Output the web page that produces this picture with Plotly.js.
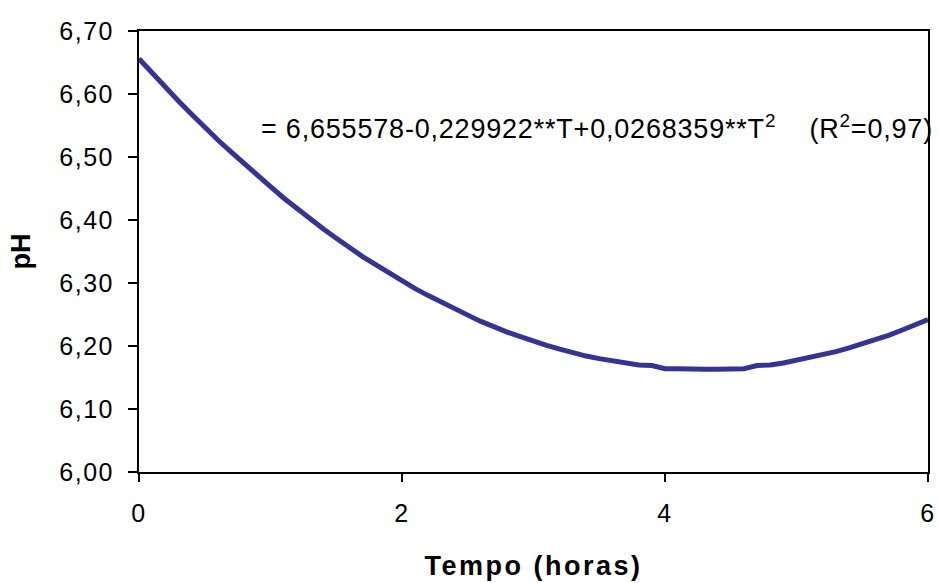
<!DOCTYPE html>
<html>
<head>
<meta charset="utf-8">
<script src="https://cdn.plot.ly/plotly-3.0.1.min.js"></script>
<style>
html,body{margin:0;padding:0;background:#fff;}
#chart{width:938px;height:583px;}
#chart .xtick text, #chart .ytick text{letter-spacing:1.5px;}
#chart .annotation-text{letter-spacing:0.8px;}
#chart .xtitle{letter-spacing:2.5px;}
</style>
</head>
<body>
<div id="chart"></div>
<script>
// Time (hours)
const tempo = [0.0,0.1,0.2,0.3,0.4,0.5,0.6,0.7,0.8,0.9,
               1.0,1.1,1.2,1.3,1.4,1.5,1.6,1.7,1.8,1.9,
               2.0,2.1,2.2,2.3,2.4,2.5,2.6,2.7,2.8,2.9,
               3.0,3.1,3.2,3.3,3.4,3.5,3.6,3.7,3.8,3.9,
               4.0,4.1,4.2,4.3,4.4,4.5,4.6,4.7,4.8,4.9,
               5.0,5.1,5.2,5.3,5.4,5.5,5.6,5.7,5.8,5.9,6.0];
// pH
const ph = [6.656,6.633,6.611,6.589,6.568,6.547,6.527,6.508,6.489,6.470,
            6.453,6.435,6.418,6.402,6.386,6.371,6.356,6.342,6.329,6.316,
            6.303,6.291,6.280,6.269,6.258,6.249,6.239,6.230,6.222,6.215,
            6.207,6.201,6.195,6.189,6.184,6.180,6.176,6.172,6.170,6.169,
            6.164,6.164,6.163,6.163,6.163,6.164,6.164,6.169,6.170,6.173,
            6.177,6.181,6.186,6.191,6.197,6.203,6.210,6.217,6.225,6.233,6.242];
const yTicks = [6.0,6.1,6.2,6.3,6.4,6.5,6.6,6.7];
const yTickText = ["6,00","6,10","6,20","6,30","6,40","6,50","6,60","6,70"];
const xTicks = [0,2,4,6];
const equationText = "= 6,655578-0,229922**T+0,0268359**T<sup>2</sup>    (R<sup>2</sup>=0,97)";

const font = "Liberation Sans, Arial, sans-serif";

const trace = {
  x: tempo, y: ph, type: "scatter", mode: "lines",
  line: {color: "#333399", width: 5},
  hoverinfo: "skip"
};

const layout = {
  width: 938, height: 583,
  margin: {l: 139, r: 10, t: 31, b: 111},
  paper_bgcolor: "#ffffff", plot_bgcolor: "#ffffff",
  showlegend: false,
  font: {family: font, color: "#000", size: 25},
  xaxis: {
    range: [0, 6], tickvals: xTicks, ticktext: xTicks.map(String),
    showgrid: false, zeroline: false,
    showline: true, linecolor: "#000", linewidth: 2, mirror: true,
    ticks: "outside", ticklen: 8, tickwidth: 2, tickcolor: "#000",
    ticklabelstandoff: 10,
    tickfont: {family: font, size: 25, color: "#000"},
    title: {text: "<b>Tempo (horas)</b>", font: {family: font, size: 27, color: "#000"}, standoff: 30}
  },
  yaxis: {
    range: [6.0, 6.7], tickvals: yTicks, ticktext: yTickText,
    showgrid: false, zeroline: false,
    showline: true, linecolor: "#000", linewidth: 2, mirror: true,
    ticks: "outside", ticklen: 9, tickwidth: 2, tickcolor: "#000",
    ticklabelstandoff: 9,
    tickfont: {family: font, size: 25, color: "#000"},
    title: {text: "<b>pH</b>", font: {family: font, size: 27, color: "#000"}, standoff: 27}
  },
  annotations: [{
    xref: "paper", yref: "paper",
    x: (259 - 139) / 789, y: (472 - 127) / 441,
    xanchor: "left", yanchor: "middle", align: "left",
    text: equationText, showarrow: false,
    font: {family: font, size: 27, color: "#000"}
  }]
};

Plotly.newPlot("chart", [trace], layout, {displayModeBar: false, staticPlot: true});
</script>
</body>
</html>
